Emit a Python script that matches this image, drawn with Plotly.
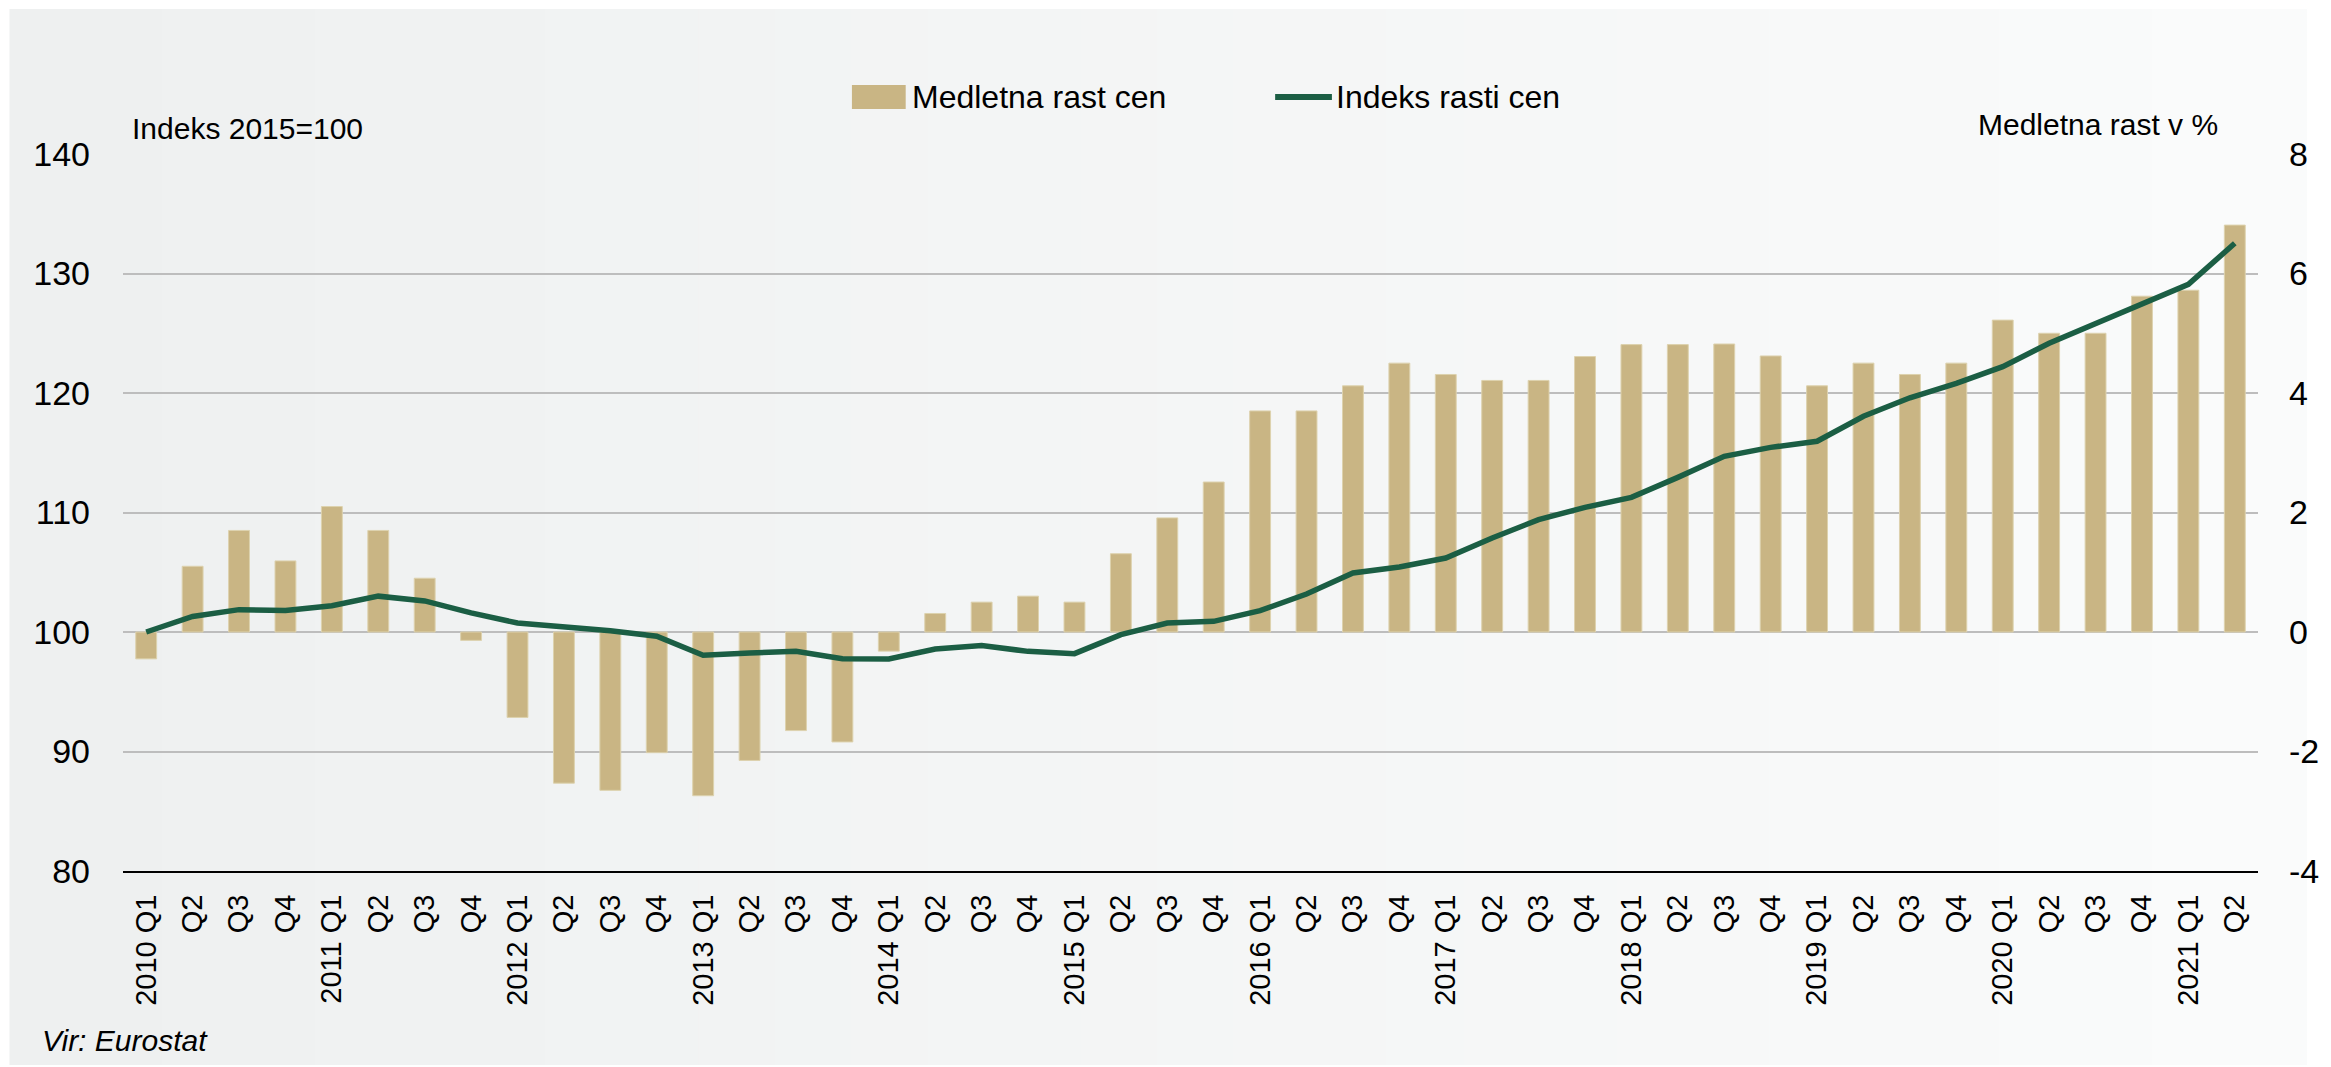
import plotly.graph_objects as go

# Quarterly house price data, 2010 Q1 - 2021 Q2
years = list(range(2010, 2022))
quarters = ["Q1", "Q2", "Q3", "Q4"]
periods = [f"{y} {q}" for y in years for q in quarters][:46]
tick_text = [p if p.endswith("Q1") else p.split(" ")[1] for p in periods]

# Year-on-year price growth (%), right axis
yoy_growth = [
    -0.45, 1.10, 1.70, 1.19,
    2.10, 1.70, 0.90, -0.14,
    -1.43, -2.53, -2.65, -2.02,
    -2.74, -2.15, -1.65, -1.84,
    -0.32, 0.31, 0.50, 0.60,
    0.50, 1.31, 1.91, 2.51,
    3.70, 3.70, 4.12, 4.50,
    4.31, 4.21, 4.21, 4.61,
    4.81, 4.81, 4.82, 4.62,
    4.12, 4.50, 4.31, 4.50,
    5.22, 5.00, 5.00, 5.62,
    5.72, 6.81,
]

# Price index (2015 = 100), left axis
price_index = [
    100.0, 101.3, 101.87, 101.8,
    102.2, 103.0, 102.6, 101.6,
    100.75, 100.47, 100.1, 99.64,
    98.05, 98.24, 98.38, 97.77,
    97.74, 98.58, 98.86, 98.38,
    98.19, 99.78, 100.75, 100.89,
    101.79, 103.18, 104.94, 105.44,
    106.19, 107.87, 109.40, 110.43,
    111.27, 112.94, 114.70, 115.45,
    115.96, 118.05, 119.60, 120.81,
    122.20, 124.16, 125.83, 127.51,
    129.09, 132.53,
]

# Right-axis ticks (plain hyphen for negatives)
growth_ticks = [-4, -2, 0, 2, 4, 6, 8]
growth_tick_text = [str(v) for v in growth_ticks]

BAR_COLOR = "#c9b584"
LINE_COLOR = "#1b5e44"
FONT = "Liberation Sans, Arial, sans-serif"

W, H = 2331, 1067
L, R, T, B = 123, 2267, 154, 871  # plot area in pixels


def px(x):
    return (x - L) / (R - L)


def py(y):
    return (B - y) / (B - T)


x = list(range(len(periods)))

fig = go.Figure()
fig.add_trace(go.Bar(
    x=x, y=yoy_growth, yaxis="y", name="Medletna rast cen",
    marker=dict(color=BAR_COLOR, line=dict(color="#ddd2ae", width=1)),
    width=0.45, showlegend=False,
))
fig.add_trace(go.Scatter(
    x=x, y=price_index, yaxis="y2", name="Indeks rasti cen",
    mode="lines", line=dict(color=LINE_COLOR, width=5.5),
    showlegend=False,
))

shapes = []
# panel background with a soft left-to-right gradient
n_strips = 30
c0 = (238, 240, 240)
c1 = (250, 251, 251)
x_start, x_end = px(9), px(2314)
for i in range(n_strips):
    t = i / (n_strips - 1)
    c = tuple(round(a + (b - a) * t) for a, b in zip(c0, c1))
    shapes.append(dict(
        type="rect", xref="paper", yref="paper", layer="below",
        x0=x_start + (x_end - x_start) * i / n_strips,
        x1=x_start + (x_end - x_start) * (i + 1) / n_strips + 0.001,
        y0=py(1065), y1=py(9),
        fillcolor=f"rgb{c}", line=dict(width=0),
    ))

# legend marks
shapes.append(dict(type="rect", xref="paper", yref="paper",
                   x0=px(855), x1=px(909), y0=py(109), y1=py(85),
                   fillcolor=BAR_COLOR, line=dict(width=0)))
shapes.append(dict(type="line", xref="paper", yref="paper",
                   x0=px(1280), x1=px(1337), y0=py(97), y1=py(97),
                   line=dict(color=LINE_COLOR, width=6)))

annotations = [
    dict(text="Medletna rast cen", x=px(913), y=py(97), xanchor="left", yanchor="middle"),
    dict(text="Indeks rasti cen", x=px(1339), y=py(97), xanchor="left", yanchor="middle"),
    dict(text="Indeks 2015=100", x=px(130), y=py(128), xanchor="left", yanchor="middle",
         font=dict(size=30)),
    dict(text="Medletna rast v %", x=px(2229), y=py(124), xanchor="right", yanchor="middle",
         font=dict(size=30)),
    dict(text="<i>Vir: Eurostat</i>", x=px(40), y=py(1040), xanchor="left", yanchor="middle",
         font=dict(size=30)),
]
for a in annotations:
    a.update(xref="paper", yref="paper", showarrow=False)
    a.setdefault("font", dict(size=32))
    a["font"] = dict(family=FONT, color="#000000", **a["font"])

fig.update_layout(
    width=W, height=H, autosize=False,
    margin=dict(l=L, r=W - R, t=T, b=H - B, pad=0),
    paper_bgcolor="#ffffff", plot_bgcolor="rgba(0,0,0,0)",
    font=dict(family=FONT, color="#000000"),
    bargap=0.55,
    shapes=shapes, annotations=annotations,
    xaxis=dict(
        range=[-0.5, len(periods) - 0.5],
        tickmode="array", tickvals=x, ticktext=tick_text,
        tickangle=-90, tickfont=dict(size=29, family=FONT),
        showgrid=False, showline=True, linecolor="#000000", linewidth=2,
        ticks="", ticklabelstandoff=10, zeroline=False,
    ),
    yaxis=dict(
        side="right", range=[-4, 8],
        tickmode="array", tickvals=growth_ticks, ticktext=growth_tick_text,
        showgrid=True, gridcolor="#bdbdbd", gridwidth=2,
        zeroline=False, showline=False, ticks="",
        tickfont=dict(size=34, family=FONT), ticklabelstandoff=30,
    ),
    yaxis2=dict(
        side="left", overlaying="y", range=[80, 140], dtick=10, tick0=80,
        showgrid=False, zeroline=False, showline=False, ticks="",
        tickfont=dict(size=34, family=FONT), ticklabelstandoff=32,
    ),
)

fig.write_html("out.html")
